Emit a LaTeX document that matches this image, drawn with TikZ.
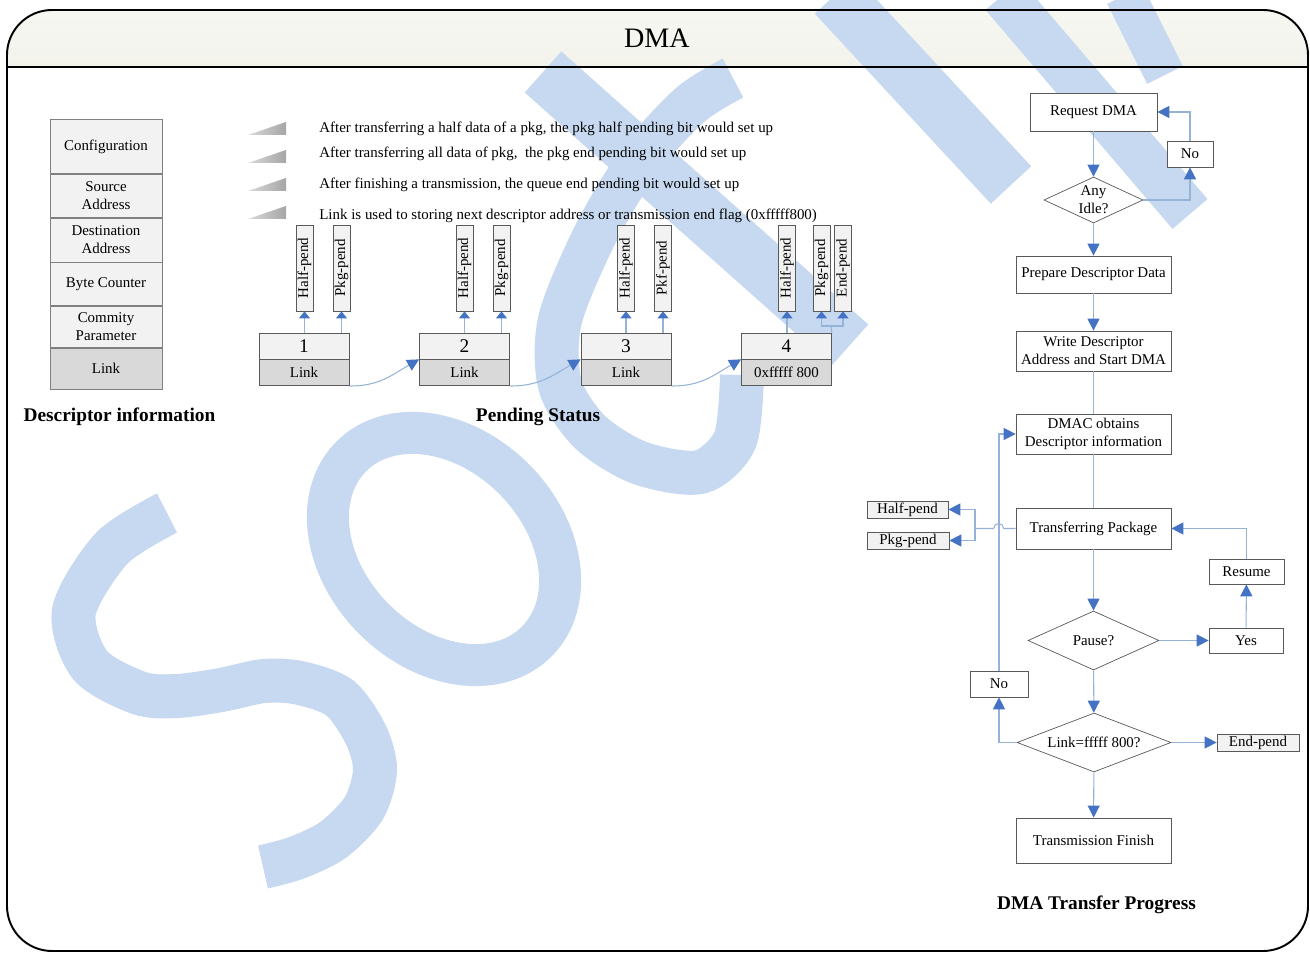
\documentclass[tikz,border=0pt]{standalone}
\usepackage{fontspec}
\setmainfont{Liberation Serif}
\usetikzlibrary{arrows.meta,shapes.geometric,positioning}

\definecolor{wmblue}{HTML}{C6D9F0}
\definecolor{lineblue}{HTML}{95B3D7}
\definecolor{tipblue}{HTML}{4472C4}
\definecolor{boxgray}{HTML}{595959}
\definecolor{cellgray}{HTML}{808080}
\definecolor{lightfill}{HTML}{F2F2F2}
\definecolor{darkfill}{HTML}{D9D9D9}
\definecolor{titlefill}{HTML}{F3F3EC}

\newlength\pxl
\setlength\pxl{0.2mm}

\begin{document}
\begin{tikzpicture}[x=0.2mm, y=-0.2mm, font=\fontsize{8.5}{10.2}\selectfont,
  cell/.style = {draw=cellgray, fill=lightfill, minimum width=112\pxl, inner sep=0pt, align=center},
  num/.style = {draw=boxgray, fill=lightfill, minimum width=90\pxl, minimum height=26\pxl, inner sep=0pt, font=\fontsize{11}{13}\selectfont},
  lnk/.style = {draw=boxgray, fill=darkfill, minimum width=90\pxl, minimum height=26\pxl, inner sep=0pt},
  pend/.style = {draw=boxgray, fill=lightfill, minimum width=86\pxl, minimum height=17\pxl, inner sep=0pt, rotate=90},
  flow/.style = {draw=boxgray, fill=white, minimum width=155\pxl, minimum height=38\pxl, inner sep=1pt, align=center},
  dec/.style = {draw=boxgray, fill=white, diamond, aspect=2.2, inner sep=0pt, align=center},
  tag/.style = {draw=boxgray, fill=white, minimum height=25\pxl, inner sep=0pt},
  flag/.style = {draw=boxgray, fill=lightfill, minimum width=82\pxl, minimum height=17\pxl, inner sep=0pt},
  head/.style = {font=\fontsize{11}{13}\selectfont\bfseries},
  link/.style = {draw=lineblue, line width=0.6pt},
  arr/.style = {link, -{Triangle[length=2.4mm, width=2.4mm, color=tipblue]}},
  sarr/.style = {link, -{Triangle[length=1.4mm, width=2.2mm, color=tipblue]}},
  wm/.style = {draw=wmblue, line width=44\pxl}]

\useasboundingbox (0,0) rectangle (1310,953);

% title bar
\begin{scope}
\clip[rounded corners=9mm] (7,10) rectangle (1308,951);
\shade[top color=titlefill!60!white, bottom color=titlefill] (0,0) rectangle (1310,67);
\end{scope}

% watermark
\draw[wm] plot[smooth] coordinates {(167,513) (112,548) (74,611) (90,665) (139,693) (177,696) (221,690) (264,681) (300,683) (340,698) (366,735) (375,770) (364,808) (333,840) (296,858) (263,867)};
\draw[wm, line width=42\pxl, rotate around={-45:(444,549)}] (444,549) ellipse [x radius=131\pxl, y radius=99\pxl];
\draw[wm] plot[smooth] coordinates {(733,78) (690,105) (640,160) (595,235) (560,320) (560,385) (590,432) (640,463) (700,472) (735,440) (742,375)};
\draw[wm, line width=55\pxl] (543,72) -- (850,345);
\draw[wm, line width=55\pxl] (835,-5) -- (1011,185);
\draw[wm, line width=46\pxl] (1003,-5) -- (1190,214);
\draw[wm, line width=40\pxl] (1125,-5) -- (1165,75);

% frame
\draw[line width=1.1pt, rounded corners=9mm] (7,10) rectangle (1308,951);
\draw[line width=1.1pt] (7,67) -- (1308,67);
\node[font=\fontsize{16}{19}\selectfont] (title) at (657,38) {DMA};

% descriptor
\node[cell, minimum height=54\pxl] (cfg) at (106,146.5) {Configuration};
\node[cell, minimum height=43\pxl, below=0pt of cfg] (src) {Source\\Address};
\node[cell, minimum height=44\pxl, below=0pt of src] (dst) {Destination\\Address};
\node[cell, minimum height=43\pxl, below=0pt of dst] (cnt) {Byte Counter};
\node[cell, minimum height=41\pxl, below=0pt of cnt] (par) {Commity\\Parameter};
\node[cell, minimum height=41\pxl, fill=darkfill, below=0pt of par] (dlink) {Link};
\node[head] (dlabel) at (119.5,417) {Descriptor information};

% legend
\foreach \y/\b/\txt in {129/135/{After transferring a half data of a pkg, the pkg half pending bit would set up},
    154/163/{After transferring all data of pkg,\ \ the pkg end pending bit would set up},
    185/191/{After finishing a transmission, the queue end pending bit would set up},
    216/219/{Link is used to storing next descriptor address or transmission end flag (0xfffff800)}}{
  \shade[left color=gray!30, right color=gray!70] (248,\b) -- (286,\b) -- (286,\b-13) -- cycle;
  \node[anchor=west, inner sep=0pt] at (319,\y) {\txt};
}

% pending status
\node[num] (n1) at (304,346) {1};
\node[lnk, below=0pt of n1] (l1) {Link};
\node[num] (n2) at (464.5,346) {2};
\node[lnk, below=0pt of n2] (l2) {Link};
\node[num] (n3) at (626,346) {3};
\node[lnk, below=0pt of n3] (l3) {Link};
\node[num] (n4) at (786.5,346) {4};
\node[lnk, below=0pt of n4] (l4) {0xfffff 800};

\node[pend] (h1) at (304.5,268) {Half-pend};
\node[pend] (k1) at (341.5,268) {Pkg-pend};
\node[pend] (h2) at (464.5,268) {Half-pend};
\node[pend] (k2) at (501.5,268) {Pkg-pend};
\node[pend] (h3) at (626,268) {Half-pend};
\node[pend] (k3) at (663,268) {Pkf-pend};
\node[pend] (h4) at (787,268) {Half-pend};
\node[pend] (k4) at (821.5,268) {Pkg-pend};
\node[pend] (e4) at (843,268) {End-pend};

\foreach \a/\p in {n1/h1, n1/k1, n2/h2, n2/k2, n3/h3, n3/k3, n4/h4}
  \draw[sarr] (\a.north -| \p) -- (\p.west);
\coordinate (j4) at (831,326);
\draw[link] (n4.north east) -- (j4);
\draw[sarr] (j4) -| (k4.west);
\draw[sarr] (j4) -| (e4.west);

\draw[arr] (l1.south east) .. controls +(30,0) and +(-28,16) .. (n2.south west);
\draw[arr] (l2.south east) .. controls +(30,0) and +(-28,16) .. (n3.south west);
\draw[arr] (l3.south east) .. controls +(30,0) and +(-28,16) .. (n4.south west);
\node[head] (plabel) at (538,417) {Pending Status};

% transfer progress
\node[flow, minimum width=127\pxl] (req) at (1093.5,112) {Request DMA};
\node[dec, minimum width=99\pxl, minimum height=46\pxl] (idle) at (1093.5,200) {Any\\Idle?};
\node[tag, minimum width=46\pxl, minimum height=26\pxl] (no1) at (1190,154) {No};
\node[flow, minimum height=37\pxl] (prep) at (1093.5,274.5) {Prepare Descriptor Data};
\node[flow, minimum height=40\pxl] (write) at (1093.5,351) {Write Descriptor\\Address and Start DMA};
\node[flow, minimum height=40\pxl] (dmac) at (1093.5,434) {DMAC obtains\\Descriptor information};
\node[flow, minimum height=41\pxl] (trans) at (1093.5,528.5) {Transferring Package};
\node[flag, minimum width=81\pxl] (fhalf) at (907.5,509.5) {Half-pend};
\node[flag] (fpkg) at (908,540.5) {Pkg-pend};
\node[dec, minimum width=131\pxl, minimum height=59\pxl] (pause) at (1093.5,640.5) {Pause?};
\node[tag, minimum width=74\pxl] (yes) at (1246,640.5) {Yes};
\node[tag, minimum width=75\pxl] (resume) at (1246.5,571.5) {Resume};
\node[tag, minimum width=58\pxl, minimum height=26\pxl] (no2) at (999,684) {No};
\node[dec, minimum width=154\pxl, minimum height=59\pxl] (linkq) at (1094,742.5) {Link=fffff 800?};
\node[flag] (fend) at (1258,742.5) {End-pend};
\node[flow, minimum height=45\pxl] (finish) at (1093.5,840.5) {Transmission Finish};
\node[head] (flabel) at (1096.5,905) {DMA Transfer Progress};

\draw[arr] (req) -- (idle);
\draw[arr] (idle.east) -| (no1.south);
\draw[arr] (no1.north) |- (req.east);
\draw[arr] (idle) -- (prep);
\draw[arr] (prep) -- (write);
\draw[link] (write) -- (dmac);
\draw[link] (dmac) -- (trans);
\draw[arr] (trans) -- (pause);
\draw[arr] (pause) -- (yes);
\draw[arr] (yes) -- (resume);
\draw[arr] (resume.north) |- (trans.east);
\draw[arr] (pause) -- (linkq);
\draw[arr] (linkq.west) -| (no2.south);
\draw[arr] (no2.north) |- (dmac.west);
\draw[arr] (linkq) -- (fend);
\draw[arr] (linkq) -- (finish);
\coordinate (fork) at (975,528.5);
\draw[link] (trans.west) -- ++(-12,0) arc[start angle=0, end angle=180, radius=5\pxl] -- (fork);
\draw[arr] (fork) |- (fhalf.east);
\draw[arr] (fork) |- (fpkg.east);
\end{tikzpicture}
\end{document}
